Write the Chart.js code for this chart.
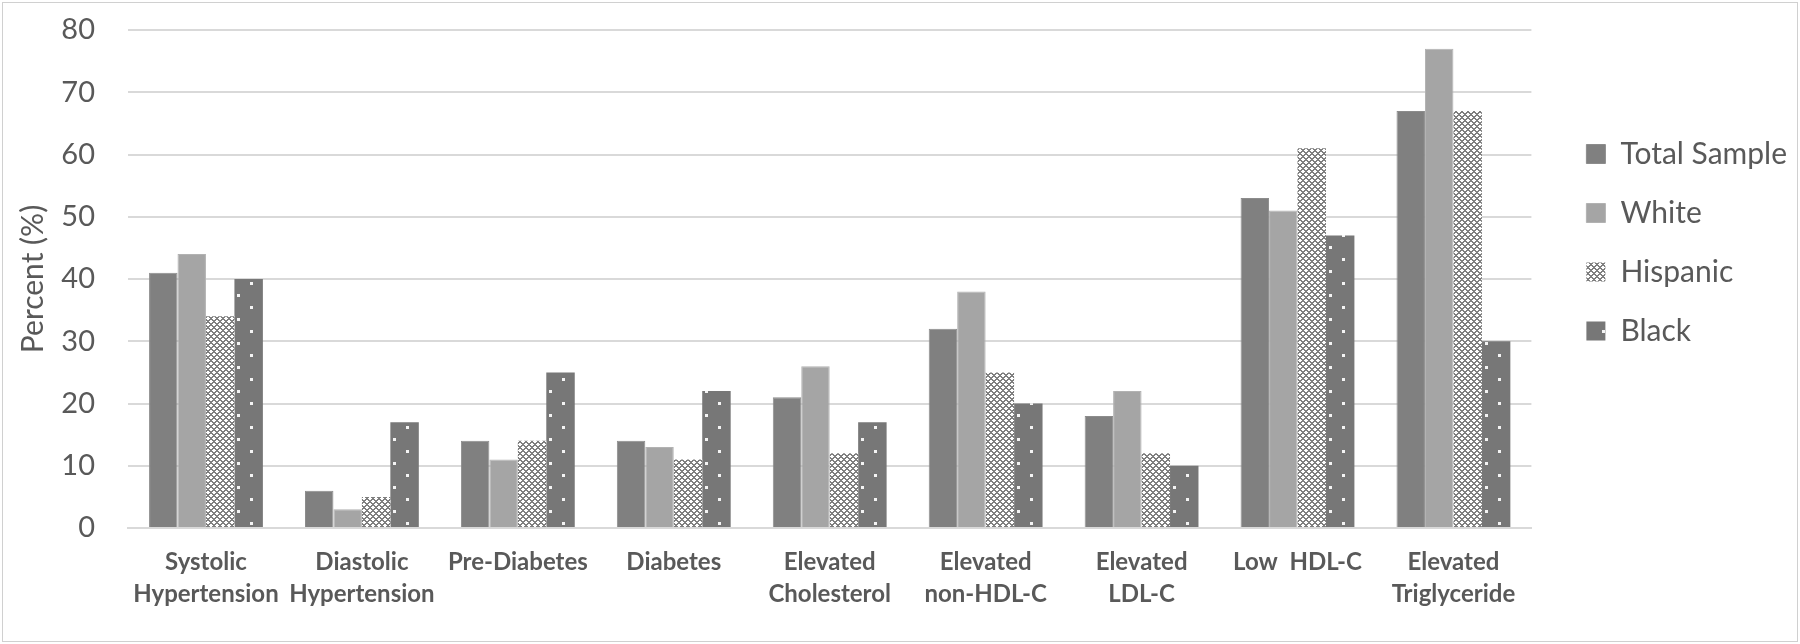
<!DOCTYPE html>
<html>
<head>
<meta charset="utf-8">
<script src="https://cdn.jsdelivr.net/npm/chart.js@4.4.1/dist/chart.umd.min.js"></script>
<style>
  html, body { margin: 0; padding: 0; background: #fff; }
  #wrap {
    position: absolute; left: 2px; top: 2px;
    width: 1796px; height: 640px;
    box-sizing: border-box; border: 1px solid #d0d0d0;
  }
  #chart { display: block; }
</style>
</head>
<body>
<div id="wrap"><canvas id="chart" width="1794" height="638"></canvas></div>
<script>
const categories = [
    ['Systolic', 'Hypertension'],
    ['Diastolic', 'Hypertension'],
    'Pre-Diabetes',
    'Diabetes',
    ['Elevated', 'Cholesterol'],
    ['Elevated', 'non-HDL-C'],
    ['Elevated', 'LDL-C'],
    'Low  HDL-C',
    ['Elevated', 'Triglyceride'],
];
const totalSample = [41, 6, 14, 14, 21, 32, 18, 53, 67];
const white = [44, 3, 11, 13, 26, 38, 22, 51, 77];
const hispanic = [34, 5, 14, 11, 12, 25, 12, 61, 67];
const black = [40, 17, 25, 22, 17, 20, 10, 47, 30];
const yTicks = [0, 10, 20, 30, 40, 50, 60, 70, 80];

// hatch for Hispanic: grey diamond lattice on white
function crossPattern() {
    const c = document.createElement('canvas');
    c.width = 6; c.height = 6;
    const g = c.getContext('2d');
    g.fillStyle = '#ffffff';
    g.fillRect(0, 0, 6, 6);
    g.fillStyle = '#7f7f7f';
    for (let y = 0; y < 6; y++) {
        for (let x = 0; x < 6; x++) {
            const a = (x + y) % 6, b = (x - y + 6) % 6;
            if (a === 0 || b === 0 || a === 1 || b === 1) g.fillRect(x, y, 1, 1);
        }
    }
    return g.createPattern(c, 'repeat');
}

// dark fill with sparse white dots for Black
function dotPattern() {
    const c = document.createElement('canvas');
    c.width = 26; c.height = 24;
    const g = c.getContext('2d');
    g.fillStyle = '#777777';
    g.fillRect(0, 0, 26, 24);
    g.fillStyle = '#f4f4f4';
    g.fillRect(0, 3, 3, 3);
    g.fillRect(13, 15, 3, 3);
    return g.createPattern(c, 'repeat');
}

const ctx = document.getElementById('chart').getContext('2d');

new Chart(ctx, {
    type: 'bar',
    data: {
        labels: categories,
        datasets: [
            { label: 'Total Sample', data: totalSample, backgroundColor: '#808080', borderColor: '#8c8c8c', borderWidth: 1 },
            { label: 'White', data: white, backgroundColor: '#a5a5a5', borderColor: '#b2b2b2', borderWidth: 1 },
            { label: 'Hispanic', data: hispanic, backgroundColor: crossPattern(), borderWidth: 0 },
            { label: 'Black', data: black, backgroundColor: dotPattern(), borderWidth: 0 },
        ],
    },
    options: {
        responsive: false,
        animation: false,
        layout: { padding: { top: 0, right: 0, bottom: 13, left: 12 } },
        datasets: {
            bar: { barPercentage: 1.0, categoryPercentage: 0.73 },
        },
        plugins: {
            tooltip: { enabled: false },
            legend: {
                position: 'right',
                align: 'start',
                // empty title only pushes the items down
                title: { display: true, text: '', font: { size: 10 }, padding: { top: 95, bottom: 0 } },
                labels: {
                    boxWidth: 19,
                    boxHeight: 19,
                    padding: 29,
                    color: '#595959',
                    font: { family: 'Lato', size: 30 },
                },
            },
        },
        scales: {
            x: {
                grid: { display: false, drawTicks: false },
                border: { color: '#d9d9d9', width: 2 },
                ticks: {
                    autoSkip: false,
                    maxRotation: 0,
                    padding: 18,
                    color: '#595959',
                    font: { family: 'Lato', size: 24, weight: 'bold', lineHeight: 1.333 },
                },
            },
            y: {
                min: 0,
                max: 80,
                afterBuildTicks: (axis) => { axis.ticks = yTicks.map(v => ({ value: v })); },
                afterFit: (axis) => {
                    axis.width = 113;
                    axis.paddingTop = 27;
                    axis.paddingBottom = 17;
                },
                grid: { color: '#d9d9d9', lineWidth: 2, drawTicks: false },
                border: { display: false },
                ticks: {
                    padding: 33,
                    color: '#595959',
                    font: { family: 'Lato', size: 29 },
                },
                title: {
                    display: true,
                    text: 'Percent (%)',
                    color: '#595959',
                    font: { family: 'Lato', size: 30 },
                    padding: { top: 0, bottom: 10 },
                },
            },
            // empty axis that only keeps the gap between the bars and the legend
            gap: {
                type: 'linear',
                position: 'right',
                grid: { display: false, drawTicks: false },
                border: { display: false },
                ticks: { display: false },
                afterFit: (axis) => { axis.width = 26; },
            },
        },
    },
});
</script>
</body>
</html>
